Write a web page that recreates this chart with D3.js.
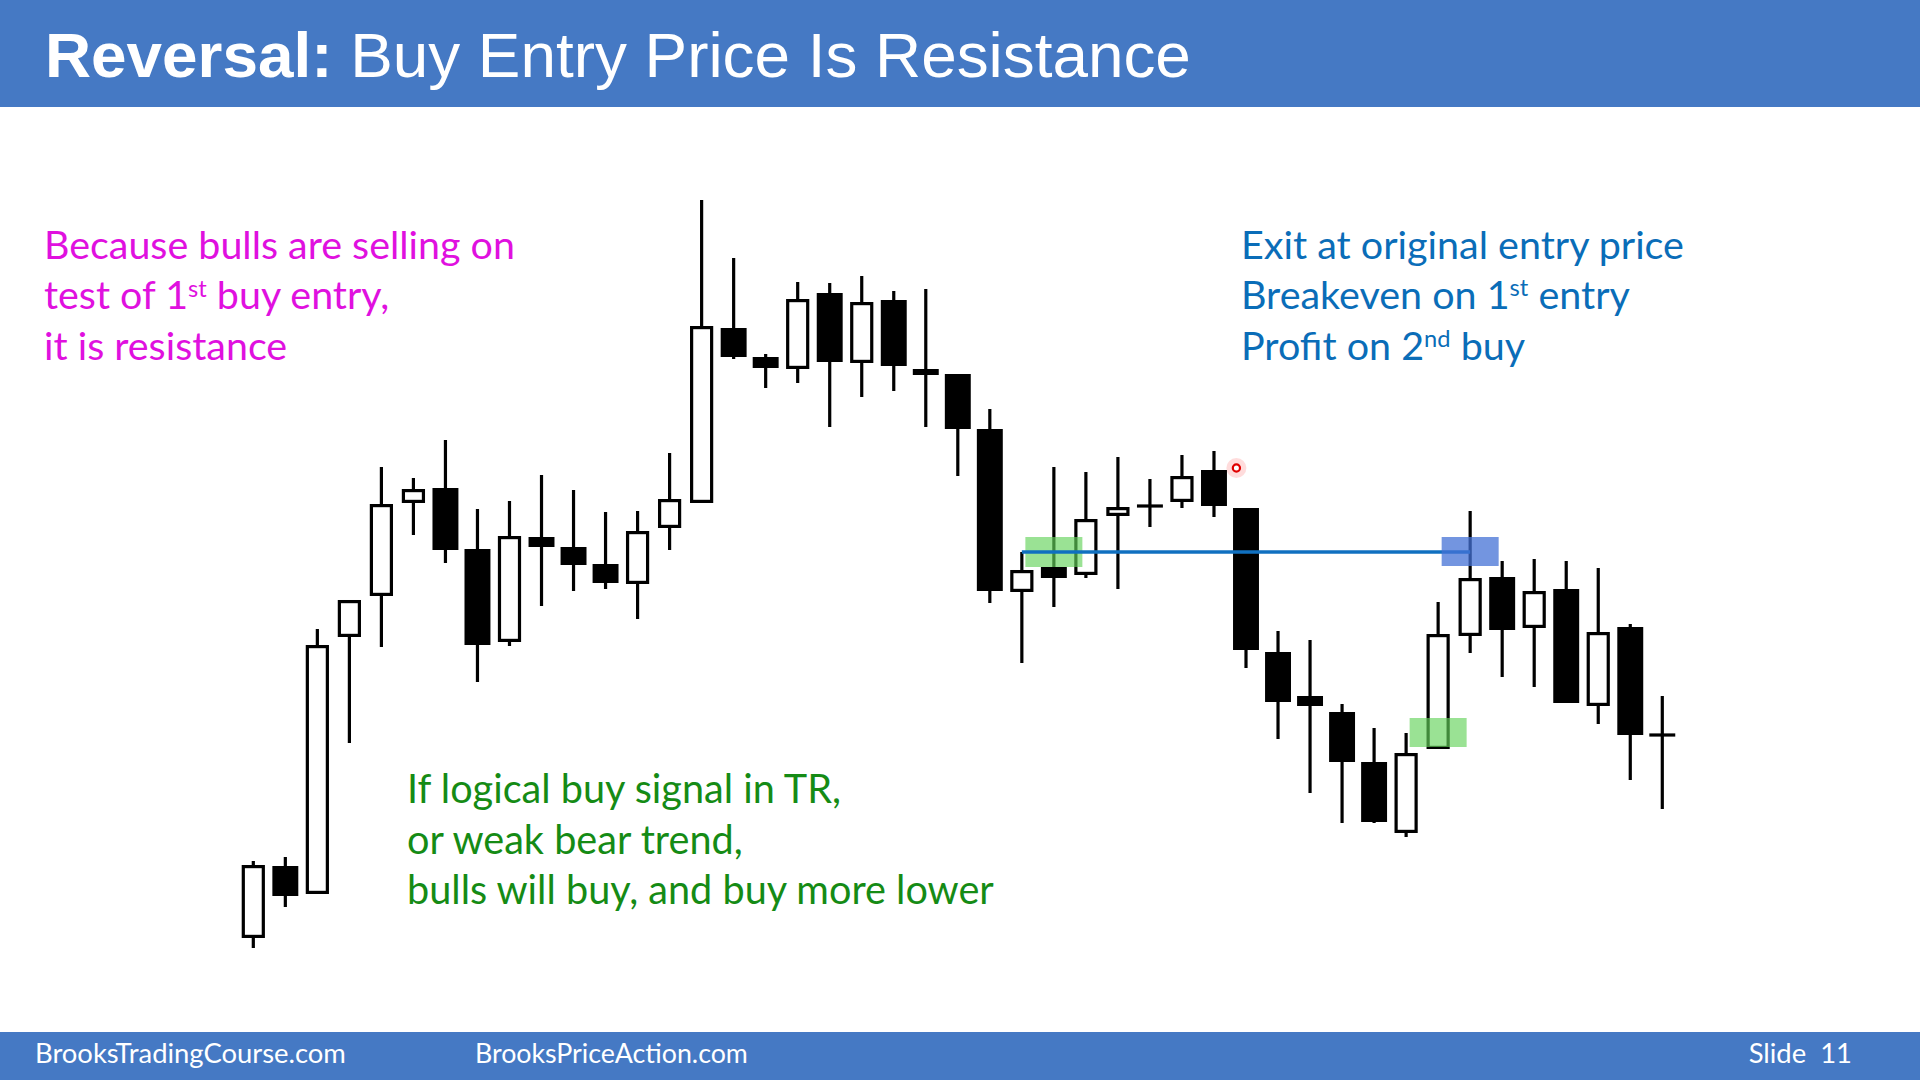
<!DOCTYPE html>
<html>
<head>
<meta charset="utf-8">
<script src="https://cdn.jsdelivr.net/npm/d3@7"></script>
<style>
html,body{margin:0;padding:0;background:#fff;overflow:hidden}
svg{display:block}
</style>
</head>
<body>
<svg id="chart" width="1920" height="1080"></svg>
<script>
// ---------------- DATA ----------------
const titleBold = "Reversal:";
const titleRest = " Buy Entry Price Is Resistance";
const footerLeft = "BrooksTradingCourse.com";
const footerMid = "BrooksPriceAction.com";
const footerRight = "Slide  11";

// bar-by-bar prices (arbitrary price units)
const opens  = [6.2,13.4,10.6,36.3,40.4,49.7,51.2,45.1,35.8,46.3,45.3,43.6,41.6,47.2,49.7,67.2,64.3,63.1,70.7,63.7,70.0,63.1,62.6,57.1,40.8,43.3,42.5,48.4,49.4,49.8,53.0,49.2,34.8,30.4,28.8,23.8,16.7,25.1,36.4,42.3,37.2,41.1,29.4,37.3,26.5];
const highs  = [13.9,14.3,37.1,40.0,53.3,52.2,56.0,49.1,49.9,52.5,51.0,48.8,48.9,54.7,80.0,74.2,64.6,71.8,71.7,72.4,70.9,71.1,62.6,59.1,44.8,53.3,52.8,54.3,52.1,54.5,54.9,49.2,36.9,36.0,29.6,27.2,26.7,39.8,48.9,43.9,44.1,43.9,43.2,37.6,30.4];
const lows   = [5.2,9.3,10.6,25.7,35.3,46.5,43.7,31.8,35.4,39.4,40.9,41.1,38.1,45.0,49.7,64.1,61.2,61.7,57.3,60.3,60.9,57.3,52.4,39.7,33.7,39.3,42.2,41.1,47.3,49.2,48.3,33.2,26.1,20.7,17.7,17.7,16.3,25.1,34.7,32.3,31.3,29.7,27.6,22.0,19.1];
const closes = [13.5,10.4,35.5,40.0,49.6,51.1,45.0,35.5,46.4,45.3,43.5,41.7,46.9,50.1,67.4,64.3,63.2,70.1,63.8,69.8,63.4,62.5,57.1,40.9,43.0,42.2,48.1,49.3,49.4,52.4,49.4,35.0,29.8,29.4,23.8,17.8,24.7,36.6,42.2,37.0,40.9,29.7,36.8,26.5,26.5];

// original entry price line (bar index from / to)
const entryPrice = 44.8;
const entryFrom = 24;
const entryTo = 38;

// highlighted zones: bar index, low, high, kind
const zoneBars  = [25, 37, 38];
const zoneLows  = [43.3, 25.3, 43.4];
const zoneHighs = [46.3, 28.2, 46.3];
const zoneKinds = ["buy", "buy", "exit"];

// laser pointer mark
const pointerBar = 30.7;
const pointerPrice = 53.2;

const pinkLines  = ["Because bulls are selling on", "test of 1^{st} buy entry,", "it is resistance"];
const blueLines  = ["Exit at original entry price", "Breakeven on 1^{st} entry", "Profit on 2^{nd} buy"];
const greenLines = ["If logical buy signal in TR,", "or weak bear trend,", "bulls will buy, and buy more lower"];

// ---------------- STYLE ----------------
const BAND = "#4579C4";
const PINK = "#E010DF";
const BLUE_T = "#0A6DB8";
const GREEN_T = "#158B15";
const BODY_FONT = "Lato, 'Noto Sans', sans-serif";

const svg = d3.select("#chart");
svg.append("rect").attr("width", 1920).attr("height", 1080).attr("fill", "#fff");

// header / footer bands
svg.append("rect").attr("x", 0).attr("y", 0).attr("width", 1920).attr("height", 107).attr("fill", BAND);
svg.append("rect").attr("x", 0).attr("y", 1032).attr("width", 1920).attr("height", 48).attr("fill", BAND);

// fit helper: returns font size so that text width equals target
function fitSize(family, weight, str, target) {
  const t = svg.append("text").attr("font-family", family).attr("font-weight", weight)
    .attr("font-size", 40).style("white-space", "pre").text(str);
  const w = t.node().getComputedTextLength();
  t.remove();
  return 40 * target / w;
}

// Title
(function () {
  const fam = "'Liberation Sans', Arial, sans-serif";
  const t = svg.append("text").attr("x", 45).attr("y", 77).attr("font-family", fam)
    .attr("fill", "#fff").attr("font-size", 40).style("white-space", "pre");
  t.append("tspan").attr("font-weight", "bold").text(titleBold);
  t.append("tspan").attr("font-weight", "normal").text(titleRest);
  const w = t.node().getComputedTextLength();
  t.attr("font-size", 40 * 1146 / w);
})();

// Footer
(function () {
  const fam = BODY_FONT;
  const fs = fitSize(fam, "normal", footerLeft, 311);
  const fs2 = fitSize(fam, "normal", footerMid, 273);
  const g = svg.append("g").attr("font-family", fam).attr("font-size", fs).attr("fill", "#fff");
  g.append("text").attr("x", 35).attr("y", 1063).text(footerLeft);
  g.append("text").attr("x", 475).attr("y", 1063).attr("font-size", fs2).text(footerMid);
  g.append("text").attr("x", 1852).attr("y", 1063).attr("text-anchor", "end").style("white-space", "pre").text(footerRight);
})();

// ---------------- CANDLES ----------------
const n = opens.length;
const x = d3.scaleBand().domain(d3.range(n)).range([237.3, 1678.3]).padding(0);
const bw = x.bandwidth();
const cx = i => x(Math.floor(i)) + bw / 2 + (i - Math.floor(i)) * bw;
const y = d3.scaleLinear().domain([0, 100]).range([1000, 0]);

const data = d3.range(n).map(i => ({ i, o: opens[i], h: highs[i], l: lows[i], c: closes[i] }));
const SW = 3.2;
const hollowW = bw * 0.625;
const bearW = bw * 0.81;

const gC = svg.append("g");
gC.selectAll("line.wick").data(data).join("line").attr("class", "wick")
  .attr("x1", d => cx(d.i)).attr("x2", d => cx(d.i))
  .attr("y1", d => y(d.h)).attr("y2", d => y(d.l))
  .attr("stroke", "#000").attr("stroke-width", SW);

gC.selectAll("rect.bull").data(data.filter(d => d.c > d.o)).join("rect").attr("class", "bull")
  .attr("x", d => cx(d.i) - hollowW / 2)
  .attr("y", d => y(d.c) + SW / 2)
  .attr("width", hollowW)
  .attr("height", d => Math.max(0.5, y(d.o) - y(d.c) - SW))
  .attr("fill", "#fff").attr("stroke", "#000").attr("stroke-width", SW);

gC.selectAll("rect.bear").data(data.filter(d => d.c <= d.o)).join("rect").attr("class", "bear")
  .attr("x", d => cx(d.i) - bearW / 2)
  .attr("y", d => { const h = y(d.c) - y(d.o); return h < SW ? (y(d.o) + y(d.c)) / 2 - SW / 2 : y(d.o); })
  .attr("width", bearW)
  .attr("height", d => Math.max(SW, y(d.c) - y(d.o)))
  .attr("fill", "#000");

// zones + entry line
const zones = zoneBars.map((b, k) => ({ b, lo: zoneLows[k], hi: zoneHighs[k], kind: zoneKinds[k] }));
const zoneW = bw * 1.78;
const gZ = svg.append("g");
gZ.selectAll("rect.buyzone").data(zones.filter(z => z.kind === "buy")).join("rect")
  .attr("class", "buyzone")
  .attr("x", d => cx(d.b) - zoneW / 2).attr("width", zoneW)
  .attr("y", d => y(d.hi)).attr("height", d => y(d.lo) - y(d.hi))
  .attr("fill", "rgb(100,210,90)").attr("fill-opacity", 0.65);

svg.append("line")
  .attr("x1", cx(entryFrom)).attr("x2", cx(entryTo))
  .attr("y1", y(entryPrice)).attr("y2", y(entryPrice))
  .attr("stroke", "#1070C0").attr("stroke-width", 3.3);

svg.append("g").selectAll("rect.exitzone").data(zones.filter(z => z.kind === "exit")).join("rect")
  .attr("class", "exitzone")
  .attr("x", d => cx(d.b) - zoneW / 2).attr("width", zoneW)
  .attr("y", d => y(d.hi)).attr("height", d => y(d.lo) - y(d.hi))
  .attr("fill", "rgb(68,114,214)").attr("fill-opacity", 0.75);

// laser pointer
const px = cx(pointerBar), py = y(pointerPrice);
svg.append("circle").attr("cx", px).attr("cy", py).attr("r", 10).attr("fill", "rgba(255,60,60,0.18)");
svg.append("circle").attr("cx", px).attr("cy", py).attr("r", 3.6).attr("fill", "#fff")
  .attr("stroke", "#e00000").attr("stroke-width", 2.2);

// ---------------- TEXT BLOCKS ----------------
function block(lines, x0, baselines, color, refIdx, refW) {
  const fs = fitSize(BODY_FONT, "normal", lines[refIdx], refW);
  const g = svg.append("g").attr("font-family", BODY_FONT).attr("font-size", fs).attr("fill", color);
  lines.forEach((ln, k) => {
    const t = g.append("text").attr("x", x0).attr("y", baselines[k]).style("white-space", "pre");
    const parts = ln.split(/\^\{([^}]*)\}/);
    let raised = false;
    parts.forEach((p, j) => {
      if (p === "") return;
      if (j % 2 === 1) {
        t.append("tspan").attr("font-size", fs * 0.6).attr("dy", -fs * 0.32).text(p);
        raised = true;
      } else {
        const ts = t.append("tspan").text(p);
        if (raised) { ts.attr("dy", fs * 0.32); raised = false; }
      }
    });
  });
}

block(pinkLines, 44, [259, 309.3, 360], PINK, 0, 471);
block(blueLines, 1241, [258.8, 308.8, 359.8], BLUE_T, 0, 443);
block(greenLines, 407, [803.3, 854, 904], GREEN_T, 2, 587);
</script>
</body>
</html>
